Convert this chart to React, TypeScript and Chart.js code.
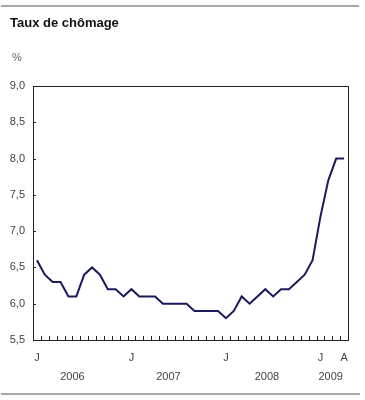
import React, { useEffect, useRef } from "react";
import { Chart, registerables } from "chart.js";

Chart.register(...registerables);

const categories = [
  "2006-01", "2006-02", "2006-03", "2006-04", "2006-05", "2006-06", "2006-07", "2006-08", "2006-09", "2006-10", "2006-11", "2006-12",
  "2007-01", "2007-02", "2007-03", "2007-04", "2007-05", "2007-06", "2007-07", "2007-08", "2007-09", "2007-10", "2007-11", "2007-12",
  "2008-01", "2008-02", "2008-03", "2008-04", "2008-05", "2008-06", "2008-07", "2008-08", "2008-09", "2008-10", "2008-11", "2008-12",
  "2009-01", "2009-02", "2009-03", "2009-04",
];

const unemploymentRate = [
  6.6, 6.4, 6.3, 6.3, 6.1, 6.1, 6.4, 6.5, 6.4, 6.2, 6.2, 6.1,
  6.2, 6.1, 6.1, 6.1, 6.0, 6.0, 6.0, 6.0, 5.9, 5.9, 5.9, 5.9,
  5.8, 5.9, 6.1, 6.0, 6.1, 6.2, 6.1, 6.2, 6.2, 6.3, 6.4, 6.6,
  7.2, 7.7, 8.0, 8.0,
];

const xTickLabels: Record<number, string> = { 0: "J", 12: "J", 24: "J", 36: "J", 39: "A" };
const yearLabels = ["2006", "2007", "2008", "2009"];
const yearPositions = [4.5, 16.7, 29.2, 37.3];

const titleText = "Taux de chômage";
const unitText = "%";

const FONT = "'Liberation Sans', Arial, sans-serif";

const decorPlugin = {
  id: "decor",
  afterDraw(chart: any) {
    const { ctx, chartArea } = chart;
    const xs = chart.scales.x;
    const ys = chart.scales.y;
    ctx.save();
    // rules
    ctx.strokeStyle = "#8a8a8a";
    ctx.lineWidth = 1.5;
    ctx.beginPath();
    ctx.moveTo(1, 6);
    ctx.lineTo(359, 6);
    ctx.moveTo(1, 394);
    ctx.lineTo(360, 394);
    ctx.stroke();
    // title
    ctx.fillStyle = "#111";
    ctx.font = `bold 13px ${FONT}`;
    ctx.textBaseline = "middle";
    ctx.textAlign = "left";
    ctx.fillText(titleText, 10, 23);
    ctx.fillStyle = "#666";
    ctx.font = `11px ${FONT}`;
    ctx.fillText(unitText, 12, 58);
    // box
    ctx.strokeStyle = "#222";
    ctx.lineWidth = 1;
    ctx.strokeRect(
      Math.round(chartArea.left) + 0.5,
      Math.round(chartArea.top) + 0.5,
      Math.round(chartArea.right - chartArea.left),
      Math.round(chartArea.bottom - chartArea.top)
    );
    // inward ticks
    ctx.beginPath();
    for (let i = 0; i <= categories.length; i++) {
      const x = Math.round(xs.getPixelForValue(i - 0.5)) + 0.5;
      ctx.moveTo(x, chartArea.bottom);
      ctx.lineTo(x, chartArea.bottom - 4);
    }
    ys.ticks.forEach((t: any) => {
      const y = Math.round(ys.getPixelForValue(t.value)) + 0.5;
      ctx.moveTo(chartArea.left, y);
      ctx.lineTo(chartArea.left + 3, y);
    });
    ctx.stroke();
    // years
    ctx.fillStyle = "#444";
    ctx.font = `11px ${FONT}`;
    ctx.textAlign = "center";
    yearLabels.forEach((lab, i) => {
      ctx.fillText(lab, xs.getPixelForValue(yearPositions[i]), 377);
    });
    ctx.restore();
  },
};

export default function App() {
  const ref = useRef<HTMLCanvasElement>(null);
  useEffect(() => {
    if (!ref.current) return;
    const chart = new Chart(ref.current, {
      type: "line",
      data: {
        labels: categories,
        datasets: [
          {
            data: unemploymentRate,
            borderColor: "#1a1a5c",
            borderWidth: 2,
            pointRadius: 0,
            tension: 0,
            fill: false,
          },
        ],
      },
      options: {
        animation: false,
        responsive: false,
        layout: { padding: { left: 0, top: 86, right: 17, bottom: 0 } },
        plugins: { legend: { display: false }, tooltip: { enabled: false }, title: { display: false } },
        scales: {
          x: {
            type: "category",
            offset: true,
            grid: { display: false, drawTicks: false },
            border: { display: false },
            afterFit(s: any) {
              s.height = 60;
            },
            ticks: {
              autoSkip: false,
              maxRotation: 0,
              padding: 11,
              color: "#444",
              font: { family: FONT, size: 11 },
              callback: (_v: any, i: number) => xTickLabels[i] ?? "",
            },
          },
          y: {
            min: 5.5,
            max: 9.0,
            grid: { display: false, drawTicks: false },
            border: { display: false },
            afterFit(s: any) {
              s.width = 33;
            },
            ticks: {
              stepSize: 0.5,
              padding: 8,
              color: "#444",
              font: { family: FONT, size: 11 },
              callback: (v: any) => Number(v).toFixed(1).replace(".", ","),
            },
          },
        },
      },
      plugins: [decorPlugin],
    });
    return () => chart.destroy();
  }, []);
  return (
    <div style={{ position: "absolute", left: 0, top: 0, width: 365, height: 400, background: "#fff" }}>
      <canvas ref={ref} width={365} height={400} style={{ width: 365, height: 400, display: "block" }} />
    </div>
  );
}
